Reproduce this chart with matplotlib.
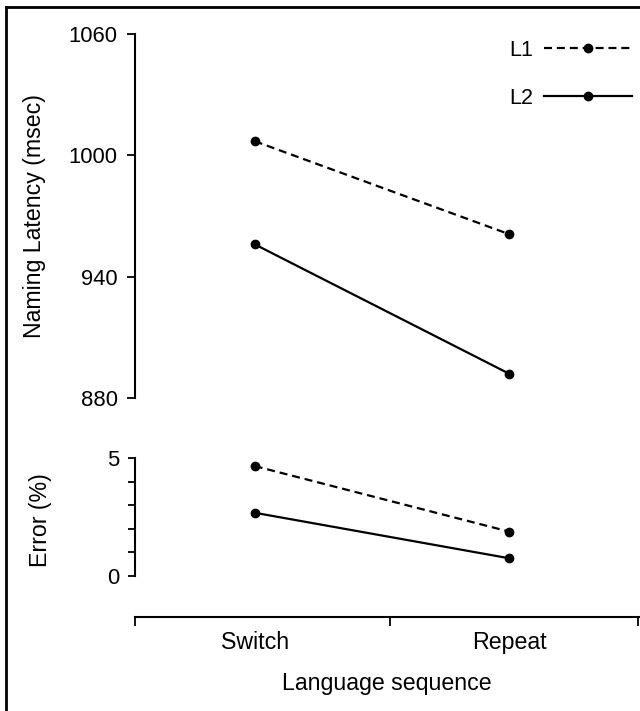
import matplotlib
matplotlib.use("Agg")
import matplotlib.pyplot as plt
from matplotlib.lines import Line2D

#----------------------------Datos------------------------
categorias = ["Switch", "Repeat"]
latencia_L1 = [1007, 961]   # Naming latency (msec), L1
latencia_L2 = [956, 892]    # Naming latency (msec), L2
error_L1 = [4.66, 1.88]     # Error (%), L1
error_L2 = [2.68, 0.75]     # Error (%), L2
etiquetas_lat = [880, 940, 1000, 1060]
etiquetas_err = [0, "", "", "", "", 5]

plt.rcParams["font.family"] = ["Liberation Sans", "DejaVu Sans"]
tam = 16.7       # textos de ejes
tam_num = 15.8   # numeros del eje y
tam_ley = 15.5   # leyenda

fig = plt.figure(figsize=(6.4, 7.11), dpi=100)
ax1 = fig.add_axes([0.211, 0.4402, 0.7875, 0.512])
ax2 = fig.add_axes([0.211, 0.1322, 0.7875, 0.2236])

x = list(range(len(categorias)))
estilo_L1 = dict(color="black", linestyle=(0, (3.6, 2.2)), linewidth=1.6,
                 marker="o", markersize=6, clip_on=False)
estilo_L2 = dict(color="black", linestyle="-", linewidth=1.6,
                 marker="o", markersize=6, clip_on=False)

#----------------------------Panel de latencia------------------------
l1, = ax1.plot(x, latencia_L1, label="L1", **estilo_L1)
l2, = ax1.plot(x, latencia_L2, label="L2", **estilo_L2)
ax1.set_xlim(-0.47, 1.51)
ax1.set_ylim(880, 1060)
ax1.set_yticks(etiquetas_lat)
ax1.set_xticks([])
for lado in ["top", "right", "bottom"]:
    ax1.spines[lado].set_visible(False)
ax1.spines["left"].set_linewidth(1.5)
ax1.tick_params(axis="y", direction="out", length=6, width=1.3, pad=6.5, labelsize=tam_num)
ax1.set_ylabel("Naming Latency (msec)", fontsize=tam)
ax1.yaxis.set_label_coords(-0.176, 0.5)

#----------------------------Panel de error------------------------
ax2.plot(x, error_L1, **estilo_L1)
ax2.plot(x, error_L2, **estilo_L2)
ax2.set_xlim(-0.47, 1.51)
ax2.set_ylim(-1.74, 5)
ax2.set_yticks(range(6))
ax2.set_yticklabels(etiquetas_err)
ax2.spines["left"].set_bounds(0, 5)
for lado in ["top", "right"]:
    ax2.spines[lado].set_visible(False)
ax2.spines["left"].set_linewidth(1.5)
ax2.spines["bottom"].set_linewidth(1.5)
ax2.tick_params(axis="y", direction="out", length=5, width=1.3, pad=6.5, labelsize=tam_num)
ax2.set_ylabel("Error (%)", fontsize=tam)
ax2.yaxis.set_label_coords(-0.165, 0.61)

# marcas del eje x en los bordes y al centro, etiquetas en las categorias
ax2.set_xticks([-0.47, 0.53, 1.505])
ax2.set_xticklabels(["", "", ""])
ax2.tick_params(axis="x", which="major", direction="out", length=6.5, width=1.3)
ax2.set_xticks(x, minor=True)
ax2.set_xticklabels(categorias, minor=True, fontsize=tam)
ax2.tick_params(axis="x", which="minor", length=0, pad=10)
ax2.set_xlabel("Language sequence", fontsize=tam, labelpad=13)

#----------------------------Leyenda------------------------
fig.legend(handles=[l1, l2], loc="upper right", bbox_to_anchor=(0.9875, 0.944),
           frameon=False, markerfirst=False, fontsize=tam_ley, handlelength=4.1,
           handletextpad=0.5, labelspacing=1.25, borderpad=0, borderaxespad=0)

# marco de la figura (solo arriba e izquierda)
fig.add_artist(Line2D([6 / 640, 6 / 640], [0, 1 - 7 / 711], color="black", linewidth=2,
                      transform=fig.transFigure))
fig.add_artist(Line2D([6 / 640, 1], [1 - 7 / 711, 1 - 7 / 711], color="black", linewidth=2,
                      transform=fig.transFigure))

fig.savefig("out.png", dpi=100)
